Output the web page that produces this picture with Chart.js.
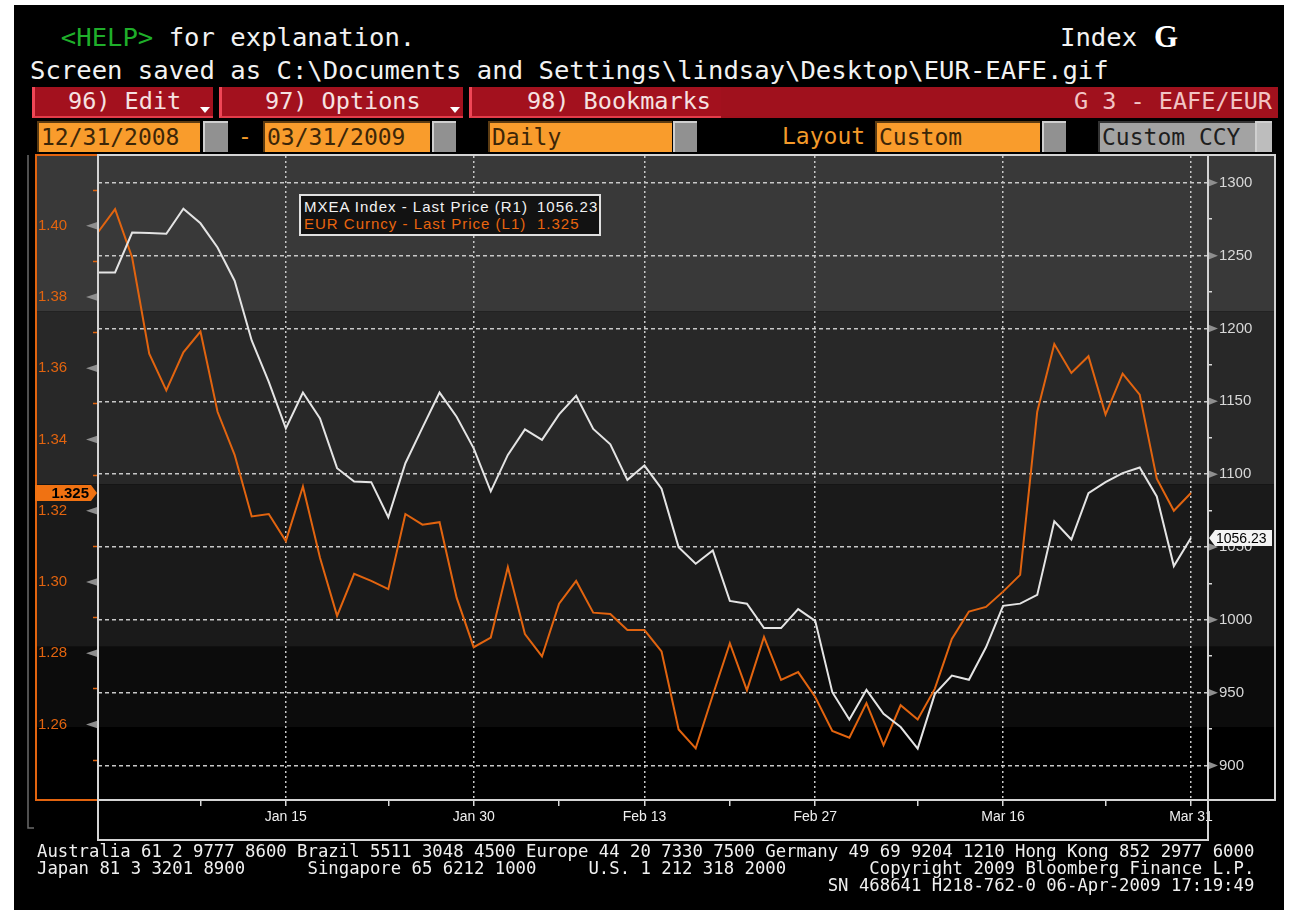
<!DOCTYPE html>
<html>
<head>
<meta charset="utf-8">
<title>EUR-EAFE</title>
<script src="https://cdn.jsdelivr.net/npm/chart.js@4.4.1/dist/chart.umd.min.js"></script>
<style>
  html, body { margin: 0; padding: 0; }
  body { width: 1290px; height: 915px; background: #fff; position: relative; overflow: hidden; font-family: "DejaVu Sans Mono", monospace; }
  .abs { position: absolute; white-space: pre; box-sizing: border-box; }
  #screen { left: 14px; top: 5px; width: 1270px; height: 905px; background: #000; }
  .hdr { font-size: 25.6px; line-height: 30px; color: #f2f2f2; }
  .btn { top: 87px; height: 31px; background: #a3111e; border-left: 3px solid #f04656; border-bottom: 2px solid #e23c4a; color: #f6e2e2; font-size: 23.5px; line-height: 29px; }
  .drop { width: 0; height: 0; border-left: 5px solid transparent; border-right: 5px solid transparent; border-top: 6px solid #fff; top: 107px; }
  .fld { top: 121px; height: 31px; background: #f99c2c; border-top: 2px solid #5b3b12; border-left: 2px solid #5b3b12; color: #3c2608; font-size: 23px; line-height: 28px; padding-left: 2px; }
  .gbx { top: 121px; height: 31px; background: #919191; border-top: 2px solid #cfcfcf; border-left: 2px solid #cfcfcf; }
  .lab { top: 121px; color: #f39a2a; font-size: 23px; line-height: 30px; }
  #legend { left: 299px; top: 194px; width: 302px; height: 42px; background: #121212; border: 2px solid #e0e0e0; font-family: "Liberation Sans", Arial, sans-serif; font-size: 15px; letter-spacing: 1px; padding: 2px 0 0 3px; white-space: normal; }
  #legend .row { position: relative; height: 17px; line-height: 17px; white-space: pre; }
  #legend .val { position: absolute; left: 233px; top: 0; }
  .foot { left: 37px; top: 843px; color: #f0f0f0; font-size: 17.3px; line-height: 17px; }
  #c { position: absolute; left: 14px; top: 140px; }
</style>
</head>
<body>
<div class="abs" id="screen"></div>

<!-- header lines -->
<div class="abs hdr" style="left:30px;top:22px;">  <span style="color:#1fae2a">&lt;HELP&gt;</span> for explanation.</div>
<div class="abs hdr" style="left:1060px;top:22px;">Index</div>
<div class="abs" style="left:1154px;top:19px;color:#fff;font:bold 31px 'Liberation Serif',serif;">G</div>
<div class="abs hdr" style="left:30px;top:55px;">Screen saved as C:\Documents and Settings\lindsay\Desktop\EUR-EAFE.gif</div>

<!-- red menu bar -->
<div class="abs btn" style="left:32px;width:181px;padding-left:33px;">96) Edit</div>
<div class="abs drop" style="left:200px;"></div>
<div class="abs btn" style="left:219px;width:244px;padding-left:43px;">97) Options</div>
<div class="abs drop" style="left:450px;"></div>
<div class="abs btn" style="left:469px;width:252px;padding-left:55px;">98) Bookmarks</div>
<div class="abs" style="left:721px;top:87px;width:557px;height:31px;background:#a0111d;color:#f2c4c4;font-size:23.5px;line-height:29px;text-align:right;padding-right:6px;">G 3 - EAFE/EUR</div>

<!-- field row -->
<div class="abs fld" style="left:37px;width:163px;">12/31/2008</div>
<div class="abs gbx" style="left:203px;width:25px;"></div>
<div class="abs lab" style="left:238px;">-</div>
<div class="abs fld" style="left:263px;width:167px;">03/31/2009</div>
<div class="abs gbx" style="left:432px;width:24px;"></div>
<div class="abs fld" style="left:488px;width:184px;">Daily</div>
<div class="abs gbx" style="left:673px;width:24px;"></div>
<div class="abs lab" style="left:782px;">Layout</div>
<div class="abs fld" style="left:875px;width:165px;">Custom</div>
<div class="abs gbx" style="left:1042px;width:24px;"></div>
<div class="abs fld" style="left:1098px;width:157px;background:#a3a3a3;border-color:#333;color:#1e1e1e;">Custom CCY</div>
<div class="abs gbx" style="left:1255px;width:17px;background:#bdbdbd;"></div>

<canvas id="c" width="1270" height="705"></canvas>

<div class="abs" id="legend"><div class="row" style="color:#f2f2f2"><span id="lgNameM"></span><span class="val" id="lgValM"></span></div><div class="row" style="color:#e8650f"><span id="lgNameE"></span><span class="val" id="lgValE"></span></div></div>

<div class="abs foot">Australia 61 2 9777 8600 Brazil 5511 3048 4500 Europe 44 20 7330 7500 Germany 49 69 9204 1210 Hong Kong 852 2977 6000
Japan 81 3 3201 8900      Singapore 65 6212 1000     U.S. 1 212 318 2000        Copyright 2009 Bloomberg Finance L.P.
                                                                            SN 468641 H218-762-0 06-Apr-2009 17:19:49</div>

<script>
// trading days shown on the chart
var dates = ['Dec 31',
    'Jan 1', 'Jan 2', 'Jan 5', 'Jan 6', 'Jan 7', 'Jan 8', 'Jan 9', 'Jan 12', 'Jan 13', 'Jan 14', 'Jan 15',
    'Jan 16', 'Jan 19', 'Jan 20', 'Jan 21', 'Jan 22', 'Jan 23', 'Jan 26', 'Jan 27', 'Jan 28', 'Jan 29', 'Jan 30',
    'Feb 2', 'Feb 3', 'Feb 4', 'Feb 5', 'Feb 6', 'Feb 9', 'Feb 10', 'Feb 11', 'Feb 12', 'Feb 13',
    'Feb 16', 'Feb 17', 'Feb 18', 'Feb 19', 'Feb 20', 'Feb 23', 'Feb 24', 'Feb 25', 'Feb 26', 'Feb 27',
    'Mar 2', 'Mar 3', 'Mar 4', 'Mar 5', 'Mar 6', 'Mar 9', 'Mar 10', 'Mar 11', 'Mar 12', 'Mar 13', 'Mar 16',
    'Mar 17', 'Mar 18', 'Mar 19', 'Mar 20', 'Mar 23', 'Mar 24', 'Mar 25', 'Mar 26', 'Mar 27', 'Mar 30', 'Mar 31'];

// MXEA Index - Last Price (R1)
var mxea = [1238.5, 1238.5, 1265.8, 1265.5, 1265.0, 1282.2, 1272.2, 1255.6, 1232.8, 1191.8, 1163.3,
    1131.4, 1156.0, 1138.3, 1104.1, 1095.0, 1094.5, 1070.4, 1107.5, 1131.9, 1156.0, 1139.4,
    1117.7, 1088.2, 1113.2, 1130.7, 1123.5, 1141.0, 1153.8, 1131.0, 1120.5, 1096.1,
    1105.9, 1090.0, 1049.9, 1038.5, 1047.6, 1013.0, 1011.1, 994.3, 994.3, 1007.3,
    999.3, 950.3, 931.5, 951.9, 935.5, 926.4, 911.6, 949.0, 961.7, 958.8, 981.1,
    1009.6, 1011.1, 1017.1, 1067.6, 1055.1, 1087.0, 1094.5, 1100.7, 1104.6, 1084.7, 1036.9, 1056.23];

// EUR Curncy - Last Price (L1)
var eur = [1.3982, 1.4047, 1.3911, 1.3641, 1.3538, 1.3645, 1.3703, 1.3478, 1.3357, 1.3184, 1.3191,
    1.3115, 1.3268, 1.3068, 1.2905, 1.3023, 1.3003, 1.2980, 1.3191, 1.3161, 1.3168, 1.2956,
    1.2817, 1.2844, 1.3042, 1.2854, 1.2791, 1.2939, 1.3003, 1.2914, 1.2910, 1.2865,
    1.2865, 1.2805, 1.2586, 1.2533, 1.2682, 1.2828, 1.2696, 1.2846, 1.2725, 1.2747,
    1.2677, 1.2582, 1.2563, 1.2660, 1.2542, 1.2654, 1.2614, 1.2700, 1.2840, 1.2917, 1.2930,
    1.2973, 1.3020, 1.3478, 1.3668, 1.3587, 1.3634, 1.3470, 1.3585, 1.3526, 1.3290, 1.3200, 1.3250];

var seriesNames = ['MXEA Index - Last Price (R1)', 'EUR Curncy - Last Price (L1)'];

// axis labels
var xTickLabels = ['Jan 15', 'Jan 30', 'Feb 13', 'Feb 27', 'Mar 16', 'Mar 31'];
var xMinorTicks = ['Jan 8', 'Jan 23', 'Feb 6', 'Feb 20', 'Mar 9', 'Mar 24'];
var mxeaTickLabels = ['900', '950', '1000', '1050', '1100', '1150', '1200', '1250', '1300'];
var eurTickLabels = ['1.26', '1.28', '1.30', '1.32', '1.34', '1.36', '1.38', '1.40'];

var lastM = mxea[mxea.length - 1];
var lastE = eur[eur.length - 1];

document.getElementById('lgNameM').textContent = seriesNames[0];
document.getElementById('lgNameE').textContent = seriesNames[1];
document.getElementById('lgValM').textContent = lastM.toFixed(2);
document.getElementById('lgValE').textContent = lastE.toFixed(3);

var CLEAR = 'rgba(0,0,0,0)';
var ORANGE = '#e2640f';

function isStep(v, step) {
    var r = v / step;
    return Math.abs(r - Math.round(r)) < 1e-6;
}

// background shading bands (fractions of plot height)
var bandStops = [0.241, 0.510, 0.762, 0.887, 1];
var bandColors = ['#393939', '#282828', '#1a1a1a', '#0c0c0c', '#000000'];

var screenFrame = {
    id: 'screenFrame',
    beforeDraw: function (chart) {
        var ctx = chart.ctx, a = chart.chartArea, s = chart.scales;
        var x0 = s.y1.left - 3, x1 = s.y.right;
        var top = a.top - 1;
        ctx.save();
        bandStops.forEach(function (f, k) {
            var bottom = a.top + (a.bottom - a.top) * f;
            ctx.fillStyle = bandColors[k];
            ctx.fillRect(x0, top, x1 - x0, bottom - top);
            top = bottom;
        });
        ctx.restore();
    },
    afterDraw: function (chart) {
        var ctx = chart.ctx, a = chart.chartArea, s = chart.scales;
        ctx.save();

        // pointers on the labelled ticks
        ctx.fillStyle = '#8e8e8e';
        s.y1.ticks.forEach(function (t) {
            if (!isStep(t.value, 0.02)) return;
            var py = s.y1.getPixelForValue(t.value);
            ctx.beginPath();
            ctx.moveTo(a.left, py - 4);
            ctx.lineTo(a.left, py + 4);
            ctx.lineTo(a.left - 12, py);
            ctx.fill();
        });
        s.y.ticks.forEach(function (t) {
            if (!isStep(t.value, 50)) return;
            var py = s.y.getPixelForValue(t.value);
            ctx.beginPath();
            ctx.moveTo(a.right, py - 4);
            ctx.lineTo(a.right, py + 4);
            ctx.lineTo(a.right + 10, py);
            ctx.fill();
        });

        // frames
        ctx.lineWidth = 2;
        ctx.strokeStyle = ORANGE;
        ctx.beginPath();
        ctx.moveTo(a.left, a.top - 1);
        ctx.lineTo(s.y1.left - 2, a.top - 1);
        ctx.lineTo(s.y1.left - 2, a.bottom);
        ctx.lineTo(a.left, a.bottom);
        ctx.stroke();

        ctx.strokeStyle = '#d4d4d4';
        ctx.strokeRect(a.left, a.top - 1, a.right - a.left, a.bottom - a.top + 1);
        ctx.strokeRect(a.right, a.top - 1, s.y.right - a.right - 1, a.bottom - a.top + 1);
        ctx.strokeRect(s.x.left, s.x.top, s.x.right - s.x.left, s.x.bottom - s.x.top - 1);

        ctx.strokeStyle = '#6a6a6a';
        ctx.lineWidth = 1.5;
        ctx.beginPath();
        ctx.moveTo(s.y1.left - 10, a.top - 1);
        ctx.lineTo(s.y1.left - 10, s.x.bottom - 13);
        ctx.lineTo(s.y1.left - 4, s.x.bottom - 13);
        ctx.stroke();

        // last value tags
        var ye = s.y1.getPixelForValue(lastE);
        ctx.fillStyle = '#f07212';
        ctx.beginPath();
        ctx.moveTo(s.y1.left - 3, ye - 8);
        ctx.lineTo(a.left - 7, ye - 8);
        ctx.lineTo(a.left - 1, ye);
        ctx.lineTo(a.left - 7, ye + 8);
        ctx.lineTo(s.y1.left - 3, ye + 8);
        ctx.closePath();
        ctx.fill();
        ctx.fillStyle = '#000';
        ctx.font = 'bold 15px "Liberation Sans", Arial, sans-serif';
        ctx.textAlign = 'right';
        ctx.textBaseline = 'middle';
        ctx.fillText(lastE.toFixed(3), a.left - 9, ye + 1);

        var ym = s.y.getPixelForValue(lastM);
        ctx.fillStyle = '#f4f4f4';
        ctx.beginPath();
        ctx.moveTo(a.right + 1, ym);
        ctx.lineTo(a.right + 7, ym - 8);
        ctx.lineTo(s.y.right - 4, ym - 8);
        ctx.lineTo(s.y.right - 4, ym + 8);
        ctx.lineTo(a.right + 7, ym + 8);
        ctx.closePath();
        ctx.fill();
        ctx.fillStyle = '#000';
        ctx.font = '14px "Liberation Sans", Arial, sans-serif';
        ctx.textAlign = 'left';
        ctx.fillText(lastM.toFixed(2), a.right + 8, ym + 1);

        ctx.restore();
    }
};

var ctx = document.getElementById('c');
var myChart = new Chart(ctx, {
    type: 'line',
    data: {
        labels: dates.concat(['']),
        datasets: [{
            label: seriesNames[0],
            data: mxea,
            yAxisID: 'y',
            borderColor: '#e4e4e4',
            borderWidth: 2,
            pointRadius: 0,
            tension: 0
        }, {
            label: seriesNames[1],
            data: eur,
            yAxisID: 'y1',
            borderColor: ORANGE,
            borderWidth: 2,
            pointRadius: 0,
            tension: 0
        }]
    },
    options: {
        responsive: false,
        animation: false,
        events: [],
        layout: {
            padding: { left: 24, right: 8, top: 13, bottom: 4 }
        },
        plugins: {
            legend: { display: false },
            tooltip: { enabled: false }
        },
        scales: {
            x: {
                type: 'category',
                afterFit: function (scale) { scale.height = 41; },
                border: { display: false, dash: [2, 3] },
                grid: {
                    lineWidth: 1.5,
                    color: function (c) {
                        return xTickLabels.indexOf(dates[c.index]) >= 0 ? '#c8c8c8' : CLEAR;
                    },
                    tickLength: 6,
                    tickWidth: 1.5,
                    tickColor: function (c) {
                        var d = dates[c.index];
                        return (xTickLabels.indexOf(d) >= 0 || xMinorTicks.indexOf(d) >= 0) ? '#d8d8d8' : CLEAR;
                    }
                },
                ticks: {
                    autoSkip: false,
                    maxRotation: 0,
                    padding: 3,
                    color: '#f0f0f0',
                    font: { family: 'Liberation Sans', size: 14 },
                    callback: function (v, i) {
                        return xTickLabels.indexOf(dates[i]) >= 0 ? dates[i] : '';
                    }
                }
            },
            y: {
                position: 'right',
                min: 876.3,
                max: 1318.4,
                afterFit: function (scale) { scale.width = 68; },
                border: { display: false, dash: [4, 3] },
                grid: {
                    lineWidth: 1.5,
                    color: function (c) { return isStep(c.tick.value, 50) ? '#c8c8c8' : CLEAR; },
                    tickLength: 4,
                    tickWidth: 1.5,
                    tickColor: function (c) {
                        var v = c.tick.value;
                        return (isStep(v, 25) && !isStep(v, 50)) ? '#d8d8d8' : CLEAR;
                    }
                },
                ticks: {
                    stepSize: 25,
                    autoSkip: false,
                    padding: 7,
                    color: '#d8d8d8',
                    font: { family: 'Liberation Sans', size: 15 },
                    callback: function (v) {
                        return mxeaTickLabels.indexOf(String(v)) >= 0 ? String(v) : '';
                    }
                }
            },
            y1: {
                position: 'left',
                min: 1.2388,
                max: 1.4196,
                afterFit: function (scale) { scale.width = 60; },
                border: { display: false },
                grid: {
                    drawOnChartArea: false,
                    tickLength: 5,
                    tickWidth: 1.5,
                    tickColor: function (c) {
                        var v = c.tick.value;
                        return (isStep(v, 0.01) && !isStep(v, 0.02)) ? ORANGE : CLEAR;
                    }
                },
                ticks: {
                    stepSize: 0.01,
                    autoSkip: false,
                    crossAlign: 'far',
                    color: ORANGE,
                    font: { family: 'Liberation Sans', size: 15 },
                    callback: function (v) {
                        var s = v.toFixed(2);
                        return (isStep(v, 0.02) && eurTickLabels.indexOf(s) >= 0) ? s : '';
                    }
                }
            }
        }
    },
    plugins: [screenFrame]
});
</script>
</body>
</html>
